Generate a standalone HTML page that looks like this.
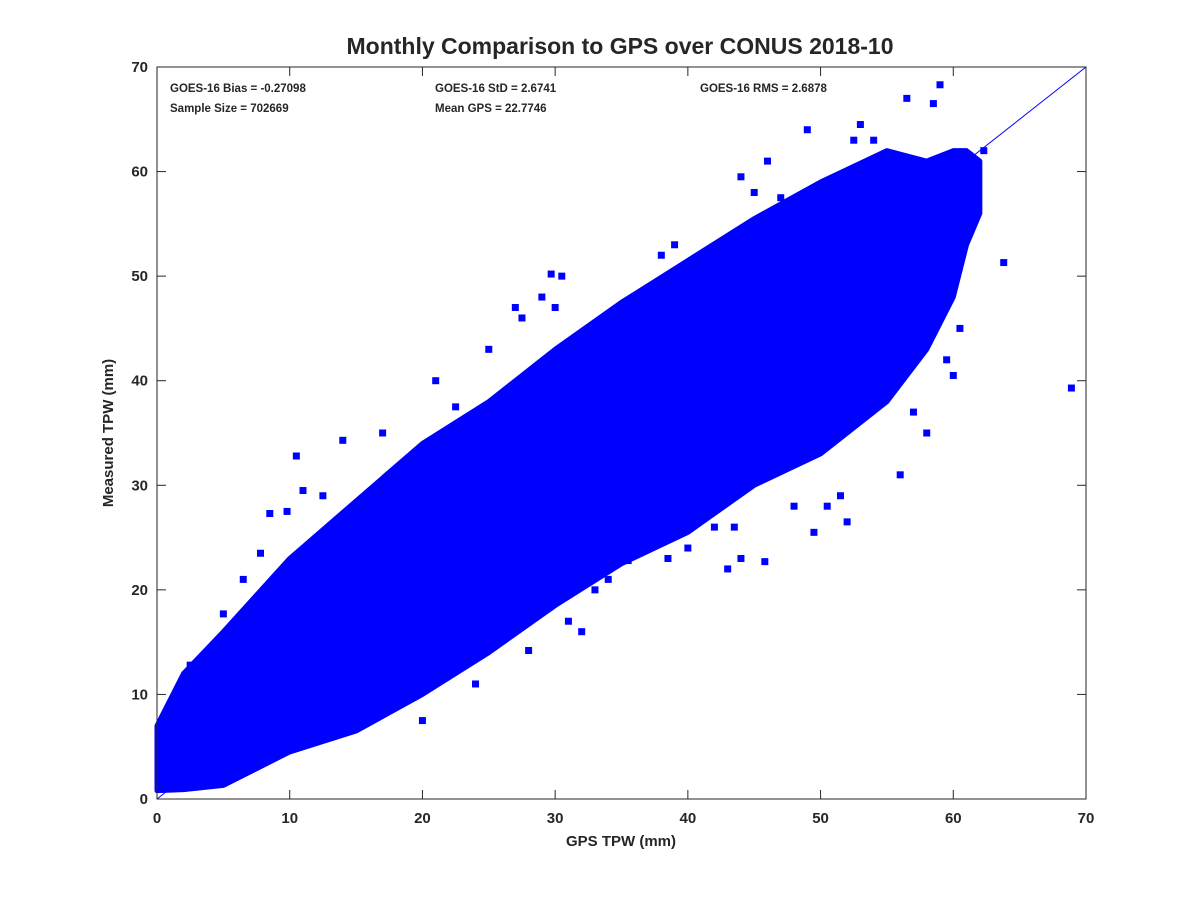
<!DOCTYPE html>
<html><head><meta charset="utf-8"><style>
body{margin:0;background:#fff;}
svg text{font-family:"Liberation Sans",sans-serif;fill:#262626;}
</style></head><body>
<svg id="chart" width="1200" height="900">
<rect width="1200" height="900" fill="#fff"/>
<text x="620" y="54" font-size="23" font-weight="bold" text-anchor="middle" fill="#000">Monthly Comparison to GPS over CONUS 2018-10</text>
<g id="plot"></g>
<g id="axes"></g>
<text x="170" y="92" font-size="11.5" font-weight="bold" fill="#000">GOES-16 Bias = -0.27098</text>
<text x="170" y="112" font-size="11.5" font-weight="bold" fill="#000">Sample Size = 702669</text>
<text x="435" y="92" font-size="11.5" font-weight="bold" fill="#000">GOES-16 StD = 2.6741</text>
<text x="435" y="112" font-size="11.5" font-weight="bold" fill="#000">Mean GPS = 22.7746</text>
<text x="700" y="92" font-size="11.5" font-weight="bold" fill="#000">GOES-16 RMS = 2.6878</text>
<text x="621" y="846" font-size="15" font-weight="bold" text-anchor="middle">GPS TPW (mm)</text>
<text transform="translate(113,433) rotate(-90)" font-size="15" font-weight="bold" text-anchor="middle">Measured TPW (mm)</text>
</svg>
<script>
const bandX=[0,2,5,10,15,20,25,30,35,40,45,50,55,58,60,61,62];
const bandLow=[0.8,0.9,1.3,4.5,6.5,10,14,18.5,22.5,25.5,30,33,38,43,48,53,56];
const bandHigh=[7,12,16,23,28.5,34,38,43,47.5,51.5,55.5,59,62,61,62,62,61];
const outX=[68.9,63.8,61.8,62.3,59,58.5,56.5,29.7,30.5,30,27,25,22.5,10.5,14,11,8.5,9.8,7.8,5,2.5,45.8,43,44,35.5,34,28,26,24,20,48,52,51.5,47.5,57,59.5,60,40,42,38.5,41,40,39,38,44,46,49,52.5,53,15,18,31,32,49.5,56,58,60.5,54,47,45,29,27.5,21,17,12.5,6.5,36,33,43.5,50.5];
const outY=[39.3,51.3,57,62,68.3,66.5,67,50.2,50,47,47,43,37.5,32.8,34.3,29.5,27.3,27.5,23.5,17.7,12.8,22.7,22,23,22.8,21,14.2,16,11,7.5,28,26.5,29,32,37,42,40.5,24,26,23,51,50.8,53,52,59.5,61,64,63,64.5,12.5,9,17,16,25.5,31,35,45,63,57.5,58,48,46,40,35,29,21,43,20,26,28];
const X0=157,X1=1086,Y0=799,Y1=67,MAX=70;
const sx=v=>X0+(X1-X0)*v/MAX, sy=v=>Y0-(Y0-Y1)*v/MAX;
const NS="http://www.w3.org/2000/svg";
const plot=document.getElementById('plot'), axes=document.getElementById('axes');
function mk(t,a,p){const e=document.createElementNS(NS,t);for(const k in a)e.setAttribute(k,a[k]);p.appendChild(e);return e;}
let pts=bandX.map((x,i)=>sx(x)+','+sy(bandHigh[i]));
for(let i=bandX.length-1;i>=0;i--)pts.push(sx(bandX[i])+','+sy(bandLow[i]));
const band=mk('polygon',{points:pts.join(' '),fill:'#0000ff',stroke:'#0000ff','stroke-width':5,'stroke-linejoin':'round'},plot);


outX.forEach((x,i)=>{const r=mk('rect',{x:sx(x)-3.5,y:sy(outY[i])-3.5,width:7,height:7,fill:'#0000ff'},plot);

});
const ln=mk('line',{x1:sx(0),y1:sy(0),x2:sx(70),y2:sy(70),stroke:'#0000ff','stroke-width':1},plot);


const box=mk('rect',{x:X0,y:Y1,width:X1-X0,height:Y0-Y1,fill:'none',stroke:'#262626','stroke-width':1},axes);


const ticks=[0,10,20,30,40,50,60,70];
ticks.forEach(t=>{
 mk('line',{x1:sx(t),y1:Y0,x2:sx(t),y2:Y0-9,stroke:'#262626'},axes);
 mk('line',{x1:sx(t),y1:Y1,x2:sx(t),y2:Y1+9,stroke:'#262626'},axes);
 mk('line',{x1:X0,y1:sy(t),x2:X0+9,y2:sy(t),stroke:'#262626'},axes);
 mk('line',{x1:X1,y1:sy(t),x2:X1-9,y2:sy(t),stroke:'#262626'},axes);
 const xl=mk('text',{x:sx(t),y:Y0+24,'font-size':15,'font-weight':'bold','text-anchor':'middle'},axes);xl.textContent=t;
 
 
 const yl=mk('text',{x:X0-9,y:sy(t)+5,'font-size':15,'font-weight':'bold','text-anchor':'end'},axes);yl.textContent=t;
 
 
});
</script>
</body></html>
